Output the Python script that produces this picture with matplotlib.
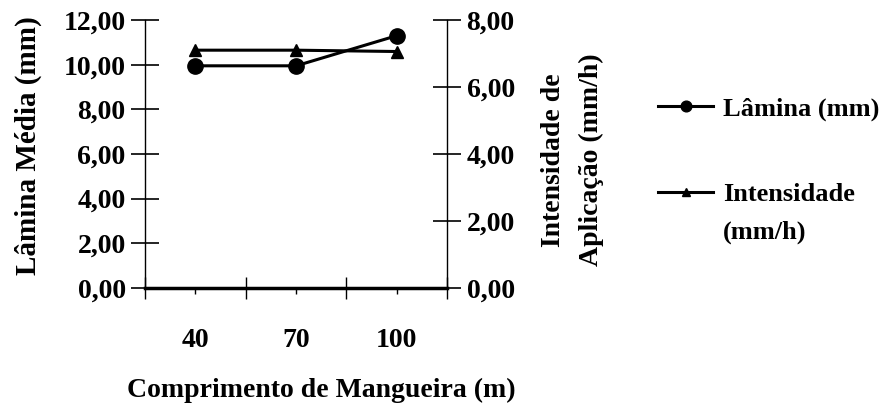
import matplotlib
matplotlib.use('Agg')
from matplotlib import pyplot as plt
from matplotlib.text import Annotation

# dados do gráfico
comprimentos = ['40', '70', '100']
lamina = [9.95, 9.95, 11.30]        # Lâmina média (mm), eixo da esquerda
intensidade = [7.10, 7.10, 7.06]    # Intensidade de aplicação (mm/h), eixo da direita
ticks_esq = [0, 2, 4, 6, 8, 10, 12]
ticks_dir = [0, 2, 4, 6, 8]


def virgula(v):
    return f'{v:.2f}'.replace('.', ',')


plt.rcParams['font.family'] = ['Liberation Serif', 'DejaVu Serif']
plt.rcParams['font.weight'] = 'bold'

fig = plt.figure(figsize=(8.96, 4.09), dpi=100)
ax = fig.add_axes([0.162, 0.296, 0.337, 0.655])
ax2 = ax.twinx()

x = list(range(len(comprimentos)))
l1, = ax.plot(x, lamina, c='black', lw=2.2, marker='o', ms=11, label='Lâmina (mm)')
l2, = ax2.plot(x, intensidade, c='black', lw=2.2, marker='^', ms=9, label='Intensidade')

# eixo x (categorias)
ax.set_xlim(-0.5, len(comprimentos) - 0.5)
ax.set_xticks(x, labels=comprimentos)
ax.set_xticks([i - 0.5 for i in range(len(comprimentos) + 1)], minor=True)
ax.tick_params(axis='x', which='major', length=4, width=1, pad=25, labelsize=20)
ax.tick_params(axis='x', which='minor', length=16, width=1, direction='inout')

# eixo da esquerda
ax.set_ylim(0, 12)
ax.set_yticks(ticks_esq, labels=[virgula(v) for v in ticks_esq])
ax.tick_params(axis='y', length=20, width=1.2, direction='inout', pad=4, labelsize=20)

# eixo da direita
ax2.set_ylim(0, 8)
ax2.set_yticks(ticks_dir, labels=[virgula(v) for v in ticks_dir])
ax2.tick_params(axis='y', length=20, width=1.2, direction='inout', pad=4, labelsize=20)

for a in (ax, ax2):
    a.spines['top'].set_visible(False)
ax.spines['right'].set_visible(False)
ax2.spines['left'].set_visible(False)
ax2.spines['bottom'].set_visible(False)
ax.spines['left'].set_linewidth(1)
ax2.spines['right'].set_linewidth(1)
ax.spines['bottom'].set_linewidth(2.5)

ax.set_xlabel('Comprimento de Mangueira (m)', fontsize=20, fontweight='bold')
ax.xaxis.set_label_coords(0.583, -0.334)
ax.set_ylabel('Lâmina Média (mm)', fontsize=21, fontweight='bold')
ax.yaxis.set_label_coords(-0.341, 0.53)
ax2.set_ylabel('Intensidade de\nAplicação (mm/h)', fontsize=20, fontweight='bold',
               rotation=90, linespacing=1.65)
ax2.yaxis.set_label_coords(1.312, 0.478)

# legenda
leg = fig.legend(handles=[l1, l2], loc='upper left', bbox_to_anchor=(658 / 896, 1 - 97 / 409),
                 frameon=False, fontsize=19, handlelength=2.1, handletextpad=0.35,
                 labelspacing=2.35, borderpad=0, borderaxespad=0, markerscale=0.7)
seg = Annotation('(mm/h)', xy=(0, 0), xycoords=leg.get_texts()[1], xytext=(0, -10),
                 textcoords='offset points', va='top', ha='left', fontsize=19, fontweight='bold')
seg.set_zorder(10)
fig.add_artist(seg)

fig.savefig('out.png', dpi=100)
